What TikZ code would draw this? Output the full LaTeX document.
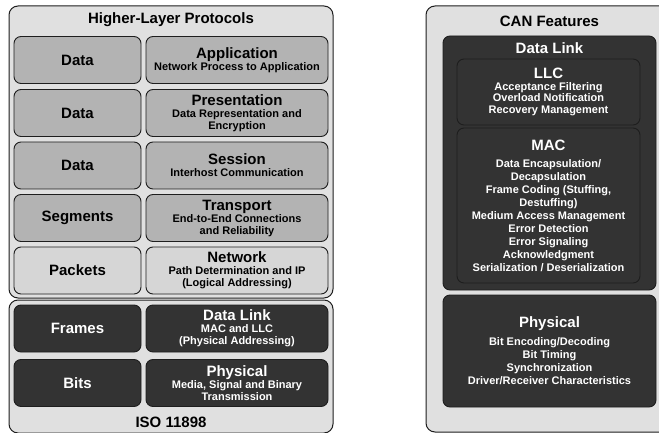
\documentclass[tikz,border=0pt]{standalone}
\usepackage{fontspec}
\setmainfont{Liberation Sans}
\usetikzlibrary{positioning}
\definecolor{panelgris}{HTML}{E0E0E0}
\definecolor{medgris}{HTML}{B3B3B3}
\definecolor{clarogris}{HTML}{D6D6D6}
\definecolor{oscuro}{HTML}{333333}
\definecolor{borde}{HTML}{1E1E1E}
\newcommand{\rotulo}[1]{{\fontsize{15}{15}\selectfont #1}}
\newcommand{\capa}[3][0pt]{\rotulo{#2}\\[#1]#3}

\begin{document}
\begin{tikzpicture}[x=1pt,y=-1pt,
  panel/.style={fill=panelgris,draw=borde,line width=1pt,rounded corners=9pt,inner sep=0pt},
  caja/.style={draw=borde,line width=0.9pt,rounded corners=7pt,inner sep=1pt,align=center,
    font=\bfseries\fontsize{11}{12}\selectfont},
  medio/.style={caja,fill=medgris},
  claro/.style={caja,fill=clarogris},
  negro/.style={caja,fill=oscuro,text=white},
  izq/.style={minimum width=127pt,minimum height=47pt},
  der/.style={minimum width=182pt,minimum height=47pt},
  titulo/.style={font=\bfseries\fontsize{15}{15}\selectfont,inner sep=0pt}]
\clip (0,0) rectangle (659,433);

% ISO 11898 stack
\node[panel,minimum width=324pt,minimum height=292pt] (superior) at (171,152) {};
\node[panel,minimum width=324pt,minimum height=133pt] (inferior) at (171,366.5) {};
\node[titulo] (thigher) at (171,20) {Higher-Layer Protocols};
\node[titulo] (tiso) at (171,422) {ISO 11898};

\node[medio,izq] (d1) at (77.5,60) {\rotulo{Data}};
\node[medio,der] (aplic) at (237,60) {\capa{Application}{Network Process to Application}};
\node[medio,izq] (d2) at (77.5,113) {\rotulo{Data}};
\node[medio,der] (present) at (237,113) {\capa{Presentation}{Data Representation and\\Encryption}};
\node[medio,izq] (d3) at (77.5,165.5) {\rotulo{Data}};
\node[medio,der] (sesion) at (237,165.5) {\capa{Session}{Interhost Communication}};
\node[medio,izq] (segm) at (77.5,218) {\rotulo{Segments}};
\node[medio,der] (transp) at (237,218) {\capa{Transport}{End-to-End Connections\\and Reliability}};
\node[claro,izq] (paq) at (77.5,270.5) {\rotulo{Packets}};
\node[claro,der] (red) at (237,270.5) {\capa{Network}{Path Determination and IP\\(Logical Addressing)}};
\node[negro,izq] (tramas) at (77.5,328.5) {\rotulo{Frames}};
\node[negro,der] (enlaceiso) at (237,328.5) {\capa{Data Link}{MAC and LLC\\(Physical Addressing)}};
\node[negro,izq] (bits) at (77.5,383) {\rotulo{Bits}};
\node[negro,der] (fisicoiso) at (237,383) {\capa{Physical}{Media, Signal and Binary\\Transmission}};

% CAN features
\node[panel,minimum width=247pt,minimum height=426pt] (can) at (549.5,219) {};
\node[titulo] (tcan) at (549.5,21) {CAN Features};
\node[negro,minimum width=213pt,minimum height=254pt] (enlace) at (549.5,163) {};
\node[titulo,text=white] (tenlace) at (549.5,48) {Data Link};
\node[negro,minimum width=183pt,minimum height=66pt,font=\bfseries\fontsize{11}{11.5}\selectfont]
  (llc) at (548.5,92) {\capa{LLC}{Acceptance Filtering\\Overload Notification\\Recovery Management}};
\node[negro,minimum width=183pt,minimum height=155pt,font=\bfseries\fontsize{11}{13}\selectfont]
  (mac) at (548.5,205.5) {\capa[4pt]{MAC}{Data Encapsulation/\\Decapsulation\\Frame Coding (Stuffing,\\Destuffing)\\Medium Access Management\\Error Detection\\Error Signaling\\Acknowledgment\\Serialization / Deserialization}};
\node[negro,minimum width=213pt,minimum height=112pt,font=\bfseries\fontsize{11}{13.3}\selectfont]
  (fisico) at (549.5,351) {\capa[4pt]{Physical}{Bit Encoding/Decoding\\Bit Timing\\Synchronization\\Driver/Receiver Characteristics}};
\end{tikzpicture}
\end{document}
